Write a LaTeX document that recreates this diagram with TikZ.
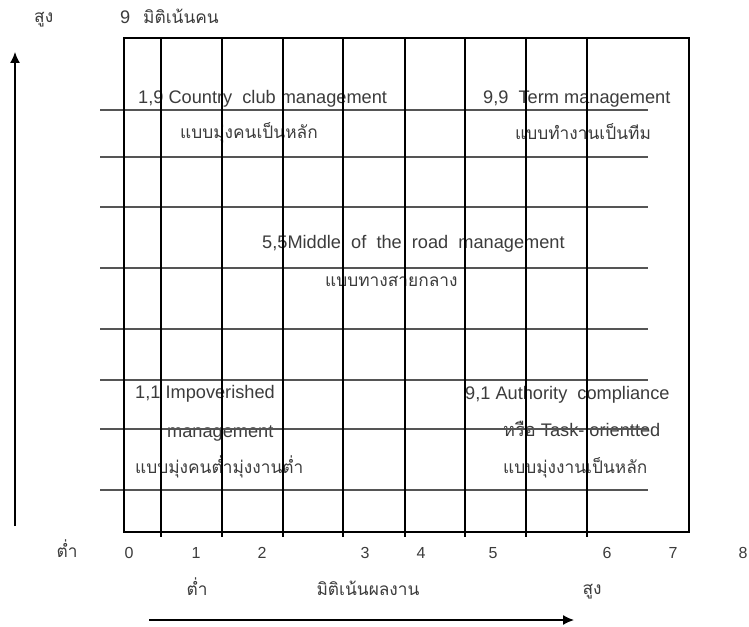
\documentclass[tikz,border=0pt]{standalone}
\usepackage{fontspec}
\setmainfont{Liberation Sans}
\newfontfamily\thaifont[Script=Thai]{Loma}
\usetikzlibrary{arrows.meta}
\definecolor{txt}{RGB}{60,60,60}
\definecolor{hgray}{RGB}{85,85,85}
\begin{document}
\begin{tikzpicture}[x=1pt,y=-1pt,
  lbl/.style={anchor=base west, inner sep=0pt, text=txt, font=\fontsize{18.2}{21}\selectfont},
  tlbl/.style={anchor=base west, inner sep=0pt, text=txt, font=\thaifont\fontsize{17.3}{20}\selectfont},
  tmid/.style={anchor=base, inner sep=0pt, text=txt, font=\thaifont\fontsize{17.3}{20}\selectfont},
  num/.style={anchor=base, inner sep=0pt, text=txt, font=\fontsize{16}{19}\selectfont},
  vrule/.style={line width=1.2pt, black},
  hrule/.style={line width=1.4pt, hgray},
  axisarrow/.style={line width=1.3pt, black, -{Latex[length=11pt,width=10pt]}}]
\useasboundingbox (0,0) rectangle (749,626);
\fill[white] (0,0) rectangle (749,626);
% labels (drawn under the grid)
\node[tlbl] (hiY) at (34,23) {สูง};
\node[lbl] (nine) at (120,24) {9};
\node[tlbl] (yname) at (143,24) {มิติเน้นคน};
\node[lbl] (q19) at (138,103) {1,9 Country\ \ club management};
\node[tlbl] (q19t) at (180,138) {แบบมุ่งคนเป็นหลัก};
\node[lbl] (q99) at (483,103) {9,9\ \ Term management};
\node[tlbl] (q99t) at (515,139) {แบบทำงานเป็นทีม};
\node[lbl] (q55) at (262,248) {5,5Middle\ \ of\ \ the\ \ road\ \ management};
\node[tlbl] (q55t) at (325,286) {แบบทางสายกลาง};
\node[lbl] (q11) at (135,398) {1,1 Impoverished};
\node[lbl] (q11b) at (167,437) {management};
\node[tlbl] (q11t) at (135,473) {แบบมุ่งคนต่ำมุ่งงานต่ำ};
\node[lbl] (q91) at (465,399) {9,1 Authority\ \ compliance};
\node[lbl] (q91b) at (503,436) {{\thaifont หรือ} Task- orientted};
\node[tlbl] (q91t) at (503,473) {แบบมุ่งงานเป็นหลัก};
\node[tmid] (loX) at (67,557) {ต่ำ};
\node[num] (n0) at (129,558) {0};
\node[num] (n1) at (196,558) {1};
\node[num] (n2) at (262,558) {2};
\node[num] (n3) at (365,558) {3};
\node[num] (n4) at (421,558) {4};
\node[num] (n5) at (493,558) {5};
\node[num] (n6) at (607,558) {6};
\node[num] (n7) at (673,558) {7};
\node[num] (n8) at (743,558) {8};
\node[tmid] (lo2) at (197,595) {ต่ำ};
\node[tmid] (xname) at (368,595) {มิติเน้นผลงาน};
\node[tmid] (hi2) at (592,594) {สูง};
% grid
\foreach \y in {110,157,207,268,329,380,429,490}
  \draw[hrule] (100,\y) -- (648,\y);
\foreach \x in {161,222,283,343,405,465,526,587}
  \draw[vrule] (\x,38) -- (\x,537);
\draw[vrule] (124,38) rectangle (689,532);
% axes
\coordinate (ybot) at (15,526);
\coordinate (ytop) at (15,52);
\coordinate (xl) at (149,620);
\coordinate (xr) at (574,620);
\draw[axisarrow] (ybot) -- (ytop);
\draw[axisarrow] (xl) -- (xr);
\end{tikzpicture}
\end{document}
